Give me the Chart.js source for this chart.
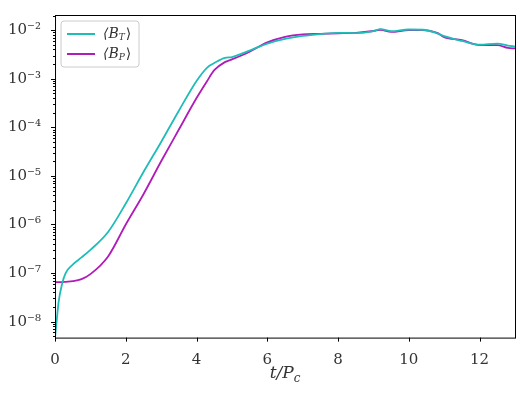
<!DOCTYPE html>
<html><head><meta charset="utf-8">
<script src="https://cdn.jsdelivr.net/npm/chart.js@4"></script>
<style>body{margin:0;background:#fff}#wrap{width:520px;height:400px}</style>
</head><body><div id="wrap"><canvas id="c"></canvas></div>
<script>
const times = [0, 0.05, 0.1, 0.2, 0.3, 0.5, 0.75, 1, 1.5, 2, 2.5, 3, 3.5, 4, 4.3, 4.5, 4.8, 5, 5.5, 6, 6.5, 7, 7.5, 8, 8.5, 9, 9.2, 9.5, 10, 10.4, 10.8, 11, 11.5, 12, 12.5, 12.8, 13];
const bT = [4.7e-9, 1.1e-8, 2.5e-8, 6e-8, 1e-7, 1.5e-7, 2.1e-7, 3e-7, 7e-7, 2.7e-6, 1.2e-5, 5e-5, 2.2e-4, 9e-4, 1.7e-3, 2.1e-3, 2.7e-3, 2.8e-3, 3.8e-3, 5.3e-3, 6.6e-3, 7.6e-3, 8.3e-3, 8.8e-3, 8.7e-3, 9.5e-3, 1.05e-2, 9.5e-3, 1.03e-2, 1.02e-2, 8.6e-3, 7.5e-3, 6e-3, 5e-3, 5.3e-3, 4.8e-3, 4.6e-3];
const bP = [6.5e-8, 6.5e-8, 6.5e-8, 6.5e-8, 6.6e-8, 6.8e-8, 7.5e-8, 9.5e-8, 2.2e-7, 1e-6, 4.2e-6, 2e-5, 9e-5, 4e-4, 9e-4, 1.5e-3, 2.2e-3, 2.5e-3, 3.6e-3, 5.6e-3, 7.3e-3, 8.2e-3, 8.4e-3, 8.6e-3, 8.8e-3, 9.6e-3, 1.02e-2, 9.2e-3, 1.0e-2, 1.0e-2, 8.8e-3, 7.2e-3, 6.2e-3, 4.9e-3, 4.9e-3, 4.3e-3, 4.2e-3];
const xTicks = [0, 2, 4, 6, 8, 10, 12];
const sup = {'-':'⁻','0':'⁰','1':'¹','2':'²','3':'³','4':'⁴','5':'⁵','6':'⁶','7':'⁷','8':'⁸','9':'⁹'};
const font = "'DejaVu Serif', 'Liberation Serif', serif";

const decor = {
  id: 'decor',
  afterDraw(chart) {
    const c = chart.ctx, a = chart.chartArea, ys = chart.scales.y, xs = chart.scales.x;
    c.save();
    // frame
    c.strokeStyle = '#000'; c.lineWidth = 1;
    c.strokeRect(a.left + 0.5, a.top + 0.5, a.right - a.left, a.bottom - a.top);
    // y ticks, major and minor
    for (let e = -9; e <= -2; e++) for (let m = 1; m <= 9; m++) {
      const v = m * Math.pow(10, e);
      if (v < ys.min || v > ys.max) continue;
      const py = Math.round(ys.getPixelForValue(v)) + 0.5;
      c.beginPath(); c.moveTo(a.left - (m === 1 ? 4 : 2), py); c.lineTo(a.left, py); c.stroke();
    }
    xTicks.forEach(t => {
      const px = Math.round(xs.getPixelForValue(t)) + 0.5;
      c.beginPath(); c.moveTo(px, a.bottom); c.lineTo(px, a.bottom + 4); c.stroke();
    });
    // x title t/P_c
    c.fillStyle = '#333'; c.textBaseline = 'alphabetic';
    c.font = 'italic 17px ' + font;
    const main = 't/P', mw = c.measureText(main).width;
    c.font = 'italic 12px ' + font;
    const sw = c.measureText('c').width;
    const cx = (a.left + a.right) / 2 - (mw + sw) / 2, by = a.bottom + 40;
    c.font = 'italic 17px ' + font; c.fillText(main, cx, by);
    c.font = 'italic 12px ' + font; c.fillText('c', cx + mw, by + 4);
    // legend
    const x = a.left + 6, y = a.top + 6;
    c.fillStyle = 'rgba(255,255,255,0.8)';
    c.strokeStyle = '#ccc'; c.lineWidth = 1;
    c.beginPath(); c.roundRect(x, y, 78, 46, 3); c.fill(); c.stroke();
    const items = [['⟨B', 'T', '#1ebdb8'], ['⟨B', 'P', '#b01cb8']];
    items.forEach((it, i) => {
      const yy = y + 13 + i * 20;
      c.strokeStyle = it[2]; c.lineWidth = 2;
      c.beginPath(); c.moveTo(x + 6, yy); c.lineTo(x + 34, yy); c.stroke();
      c.fillStyle = '#333'; c.textBaseline = 'middle';
      c.font = 'italic 14px ' + font; c.fillText(it[0], x + 42, yy);
      const w = c.measureText(it[0]).width;
      c.font = 'italic 9px ' + font; c.fillText(it[1], x + 42 + w, yy + 4);
      const w2 = c.measureText(it[1]).width;
      c.font = '14px ' + font; c.fillText('⟩', x + 43 + w + w2, yy);
    });
    c.restore();
  }
};

new Chart(document.getElementById('c'), {
  type: 'line',
  data: {
    datasets: [
      { label: '⟨B_T⟩', data: times.map((t, i) => ({x: t, y: bT[i]})), borderColor: '#1ebdb8', borderWidth: 1.8, pointRadius: 0, cubicInterpolationMode: 'monotone' },
      { label: '⟨B_P⟩', data: times.map((t, i) => ({x: t, y: bP[i]})), borderColor: '#b01cb8', borderWidth: 1.8, pointRadius: 0, cubicInterpolationMode: 'monotone' }
    ]
  },
  options: {
    animation: false, responsive: true, maintainAspectRatio: false,
    layout: { padding: { left: 2, right: 5, top: 5, bottom: 0 } },
    plugins: { legend: { display: false }, tooltip: { enabled: false } },
    scales: {
      x: {
        type: 'linear', min: 0, max: 13,
        grid: { display: false },
        border: { display: false },
        afterBuildTicks(ax) { ax.ticks = xTicks.map(v => ({ value: v })); },
        ticks: { color: '#333', font: { family: font, size: 15 }, padding: 6 },
        title: { display: true, text: ' ', font: { size: 17 }, padding: 2 }
      },
      y: {
        type: 'logarithmic', min: 4.7e-9, max: 2.05e-2,
        grid: { display: false },
        border: { display: false },
        afterBuildTicks(ax) {
          const t = [];
          for (let e = -8; e <= -2; e++) t.push({ value: Math.pow(10, e), major: true });
          ax.ticks = t;
        },
        ticks: {
          autoSkip: false, color: '#333', font: { family: font, size: 15 }, padding: 6,
          callback(v) {
            const e = Math.round(Math.log10(v));
            return '10' + String(e).split('').map(ch => sup[ch]).join('');
          }
        }
      }
    }
  },
  plugins: [decor]
});
</script></body></html>
